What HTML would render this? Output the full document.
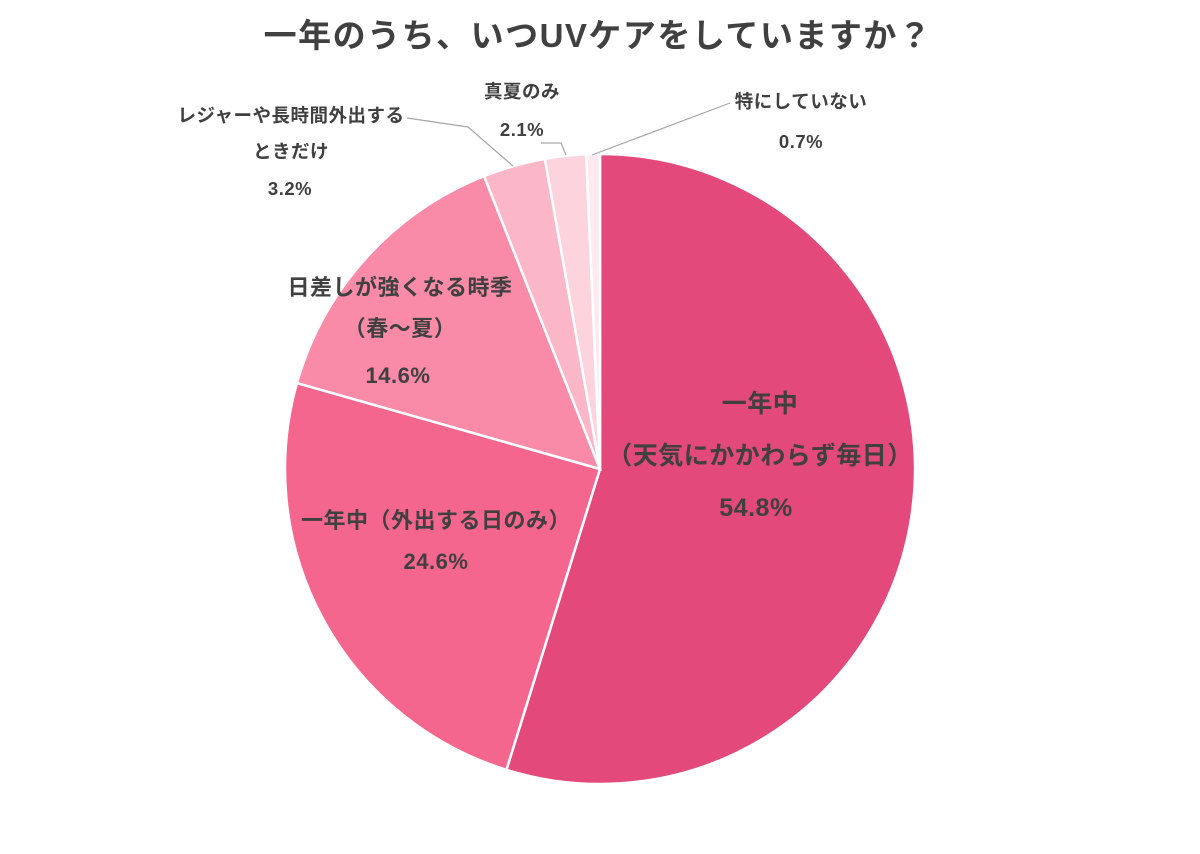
<!DOCTYPE html>
<html><head><meta charset="utf-8">
<style>
html,body{margin:0;padding:0;background:#fff;width:1200px;height:854px;overflow:hidden}
svg text{font-family:"Liberation Sans","Noto Sans CJK JP",sans-serif;font-weight:bold;fill:#404040}
</style></head>
<body>
<svg id="chart" width="1200" height="854">
<text x="598" y="47" text-anchor="middle" font-size="33" letter-spacing="1.5">一年のうち、いつUVケアをしていますか？</text>
<g id="slices"></g>
<g id="labels"></g>
</svg>
<script>
const categories=["一年中（天気にかかわらず毎日）","一年中（外出する日のみ）","日差しが強くなる時季（春～夏）","レジャーや長時間外出するときだけ","真夏のみ","特にしていない"];
const values=[54.8,24.6,14.6,3.2,2.1,0.7];
const colors=["#e3497a","#f5668e","#f98aa8","#fbb6c8","#fdd3de","#fde9ef"];
const cx=600,cy=469,r=315;
const ns="http://www.w3.org/2000/svg";
const g=document.getElementById('slices');
const total=values.reduce((a,b)=>a+b,0);
let a0=0;
function pt(a){return [cx+r*Math.sin(a),cy-r*Math.cos(a)];}
values.forEach((v,i)=>{
  const a1=a0+v/total*2*Math.PI;
  const p0=pt(a0),p1=pt(a1);
  const large=(a1-a0)>Math.PI?1:0;
  const p=document.createElementNS(ns,'path');
  p.setAttribute('d',`M${cx},${cy}L${p0[0]},${p0[1]}A${r},${r} 0 ${large} 1 ${p1[0]},${p1[1]}Z`);
  p.setAttribute('fill',colors[i]);
  p.setAttribute('stroke','#fff');
  p.setAttribute('stroke-width','2.5');
  
  
  g.appendChild(p);
  a0=a1;
});
const L=document.getElementById('labels');
function txt(x,y,s,size,name){
  const t=document.createElementNS(ns,'text');
  t.setAttribute('x',x);t.setAttribute('y',y);t.setAttribute('text-anchor','middle');
  t.setAttribute('font-size',size);t.setAttribute('letter-spacing','0.5');t.textContent=s;
  
  
  L.appendChild(t);
}
function line(pts,name){
  const p=document.createElementNS(ns,'polyline');
  p.setAttribute('points',pts);p.setAttribute('fill','none');p.setAttribute('stroke','#a6a6a6');p.setAttribute('stroke-width','1.2');
  
  
  L.appendChild(p);
}
txt(760,412,"一年中",25,"label-everyday");
txt(760,464,"（天気にかかわらず毎日）",25,"label-everyday-2");
txt(756,516,values[0].toFixed(1)+"%",25,"value-everyday");
txt(436,528,"一年中（外出する日のみ）",22,"label-outing");
txt(436,569,values[1].toFixed(1)+"%",22,"value-outing");
txt(400,295,"日差しが強くなる時季",22,"label-season");
txt(400,336,"（春～夏）",22,"label-season-2");
txt(398,383,values[2].toFixed(1)+"%",22,"value-season");
txt(291,122,"レジャーや長時間外出する",18.5,"label-leisure");
txt(291,158,"ときだけ",18.5,"label-leisure-2");
txt(290,195,values[3].toFixed(1)+"%",18.5,"value-leisure");
txt(522,98,"真夏のみ",18.5,"label-summer");
txt(522,136,values[4].toFixed(1)+"%",18.5,"value-summer");
txt(801,108,"特にしていない",18.5,"label-none");
txt(801,148,values[5].toFixed(1)+"%",18.5,"value-none");
line("407,118 468,127 513,166","leader-leisure");
line("541,143 561,143 566,155","leader-summer");
line("730,103 592,155","leader-none");
</script>
</body></html>
